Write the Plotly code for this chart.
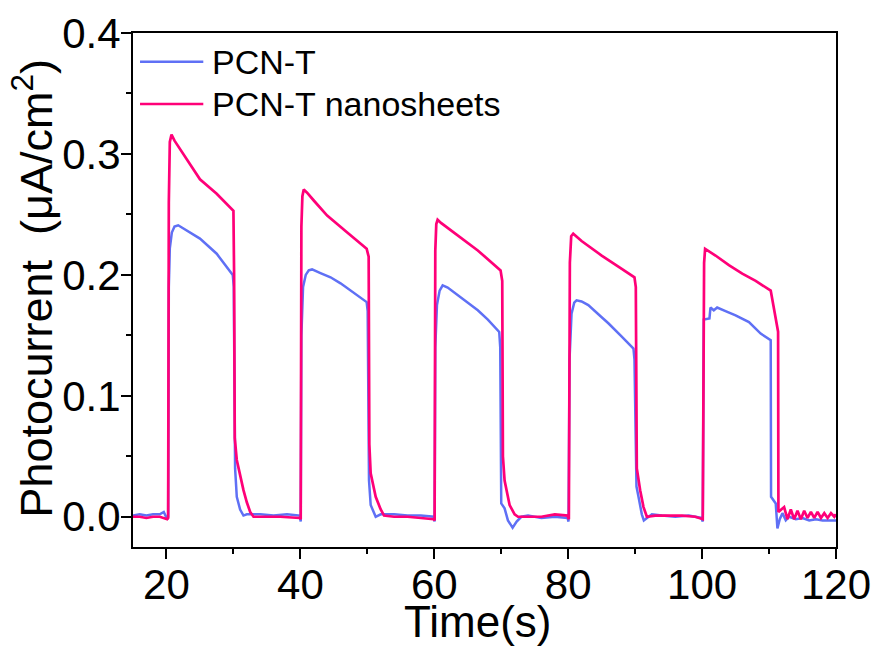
import plotly.graph_objects as go

# ---- data ----
t_pcn = [15, 16, 17, 18, 19, 19.6, 20.1, 20.25, 20.35, 20.5, 20.8, 21.2, 21.75, 23, 25, 27.5, 29.9,
         30.05, 30.25, 30.5, 31.0, 31.5, 32, 34, 36, 38, 39.9,
         40.05, 40.15, 40.4, 40.8, 41.25, 41.75, 43, 44.5, 46, 47.5, 49.9,
         50.05, 50.25, 50.5, 51.25, 52, 54, 56, 58, 59.9,
         60.05, 60.15, 60.4, 60.8, 61.25, 62, 63.5, 65, 66.5, 68, 69.7,
         69.85, 70.0, 70.5, 71.0, 71.7, 72.3, 73, 74, 76, 78, 79.9,
         80.05, 80.2, 80.5, 80.9, 81.25, 82, 83, 85, 86, 88, 89.75,
         89.9, 90.2, 90.5, 91.0, 91.3, 92.5, 94, 96, 98, 99.9,
         100.1, 100.25, 101.1, 101.25, 101.75, 102.25, 103.5, 105, 107, 108.75, 110.25,
         110.3, 111.0, 111.25, 111.6, 112, 112.5, 113, 114, 115, 116, 117, 118, 119, 120]
i_pcn = [0.001, 0.002, 0.001, 0.002, 0.002, 0.004, -0.002, 0.0, 0.19, 0.222, 0.235, 0.240, 0.241, 0.237, 0.230, 0.2175, 0.200,
         0.190, 0.040, 0.0165, 0.006, 0.001, 0.002, 0.002, 0.001, 0.002, 0.001,
         -0.004, 0.150, 0.190, 0.200, 0.2037, 0.2045, 0.2015, 0.198, 0.193, 0.187, 0.1775,
         0.170, 0.030, 0.0097, 0.0, 0.002, 0.002, 0.001, 0.001, 0.0,
         -0.004, 0.140, 0.175, 0.187, 0.1913, 0.1895, 0.183, 0.177, 0.1707, 0.163, 0.1528,
         0.140, 0.011, 0.007, -0.003, -0.009, -0.004, 0.0, 0.001, -0.001, 0.0, -0.001,
         -0.004, 0.130, 0.168, 0.177, 0.179, 0.178, 0.175, 0.165, 0.160, 0.149, 0.139,
         0.130, 0.025, 0.0165, 0.002, -0.003, 0.002, 0.001, 0.0, 0.001, -0.001,
         -0.004, 0.163, 0.164, 0.173, 0.1707, 0.173, 0.170, 0.1666, 0.161, 0.1515, 0.146,
         0.0165, 0.011, -0.0096, -0.002, 0.003, -0.003, 0.0, -0.002, -0.001, -0.003, -0.002, -0.003, -0.003, -0.003]

t_nano = [15, 16, 17, 18, 19, 20.1, 20.25, 20.35, 20.5, 20.75, 21.2, 22.5, 25, 27.5, 29.75,
          30.0, 30.1, 30.2, 30.5, 31.0, 31.5, 32.0, 32.5, 33.0, 35, 37, 39.9,
          40.05, 40.15, 40.3, 40.5, 41, 42, 44, 47, 49.9,
          50.2, 50.3, 50.5, 51.25, 52, 52.5, 54, 56, 58, 59.9,
          60.05, 60.15, 60.3, 60.5, 61, 63.5, 66.5, 69.9,
          70.15, 70.25, 70.5, 71.25, 72, 72.5, 74, 76, 78, 79.9,
          80.1, 80.25, 80.45, 80.75, 82, 85, 88, 89.9,
          90.1, 90.25, 90.75, 91.25, 91.75, 93, 95, 97, 99,
          100.1, 100.3, 100.45, 102, 104, 106, 108, 110.25,
          111.35, 111.4, 111.8, 112.25, 112.75, 113.25, 113.75, 114.25, 114.75, 115.25, 115.75,
          116.25, 116.75, 117.25, 117.75, 118.25, 118.75, 119.25, 119.75, 120]
i_nano = [0.0, 0.0, -0.001, 0.0, 0.0, -0.002, -0.001, 0.26, 0.31, 0.316, 0.311, 0.300, 0.279, 0.267, 0.2547,
          0.253, 0.200, 0.065, 0.047, 0.034, 0.022, 0.012, 0.004, 0.0, 0.0, 0.0, -0.001,
          -0.002, 0.240, 0.265, 0.2705, 0.268, 0.2615, 0.249, 0.235, 0.2216,
          0.215, 0.060, 0.036, 0.0165, 0.006, 0.001, 0.0, 0.0, -0.001, -0.002,
          -0.003, 0.220, 0.242, 0.2456, 0.243, 0.2326, 0.2202, 0.2037,
          0.195, 0.050, 0.030, 0.0097, 0.002, 0.0, 0.0, 0.0, 0.002, 0.001,
          -0.002, 0.210, 0.232, 0.234, 0.228, 0.216, 0.205, 0.198,
          0.190, 0.040, 0.022, 0.008, 0.0, 0.001, 0.001, 0.001, 0.0,
          -0.002, 0.210, 0.2216, 0.216, 0.208, 0.201, 0.195, 0.187,
          0.153, 0.004, 0.006, 0.008, -0.002, 0.006, -0.002, 0.005, -0.002, 0.005, -0.001,
          0.004, -0.001, 0.004, -0.001, 0.003, -0.001, 0.003, 0.0, 0.002]

series_names = ["PCN-T", "PCN-T nanosheets"]
series_colors = ["#5F70F5", "#FF0078"]

x_tickvals = [20, 40, 60, 80, 100, 120]
y_tickvals = [0.0, 0.1, 0.2, 0.3, 0.4]

FONT = "Liberation Sans, Arial, sans-serif"

fig = go.Figure()
fig.add_trace(go.Scatter(x=t_pcn, y=i_pcn, mode="lines", name=series_names[0],
                         line=dict(color=series_colors[0], width=2.5), showlegend=False))
fig.add_trace(go.Scatter(x=t_nano, y=i_nano, mode="lines", name=series_names[1],
                         line=dict(color=series_colors[1], width=2.7), showlegend=False))

# legend drawn with shapes + text (long line samples like the reference)
leg_y = [0.944, 0.862]
for yy, nm, col in zip(leg_y, series_names, series_colors):
    fig.add_shape(type="line", xref="paper", yref="paper", x0=0.010, x1=0.100, y0=yy, y1=yy,
                  line=dict(color=col, width=2.5))
    fig.add_annotation(xref="paper", yref="paper", x=0.110, y=yy, xanchor="left", yanchor="middle",
                       text=nm, showarrow=False, font=dict(family=FONT, size=34, color="black"))

# axis titles
fig.add_annotation(xref="paper", yref="paper", x=0.490, y=-0.145, xanchor="center", yanchor="middle",
                   text="Time(s)", showarrow=False, font=dict(family=FONT, size=44, color="black"))
fig.add_annotation(xref="paper", yref="paper", x=-0.142, y=0.503, xanchor="center", yanchor="middle",
                   textangle=-90, text="Photocurrent  (μA/cm<sup>2</sup>)", showarrow=False,
                   font=dict(family=FONT, size=45, color="black"))

axis_common = dict(showline=True, linecolor="black", linewidth=2, mirror=True,
                   ticks="outside", ticklen=10, tickwidth=2, tickcolor="black",
                   showgrid=False, zeroline=False, automargin=False)

fig.update_xaxes(range=[15, 120], tickvals=x_tickvals, ticklabelstandoff=-10,
                 tickfont=dict(family=FONT, size=42, color="black"),
                 minor=dict(ticks="outside", ticklen=5, tickwidth=2, tickcolor="black", dtick=10, tick0=0),
                 **axis_common)
fig.update_yaxes(range=[-0.025, 0.4], tickvals=y_tickvals, tickformat=".1f", ticklabelstandoff=-8,
                 tickfont=dict(family=FONT, size=42, color="black"),
                 minor=dict(ticks="outside", ticklen=5, tickwidth=2, tickcolor="black", dtick=0.05, tick0=0),
                 **axis_common)

fig.update_layout(width=879, height=648, plot_bgcolor="white", paper_bgcolor="white",
                  margin=dict(l=133, r=43, t=33, b=101), showlegend=False)

fig.write_html("out.html", config={"displayModeBar": False},
               post_script="document.body.style.margin='0';")
